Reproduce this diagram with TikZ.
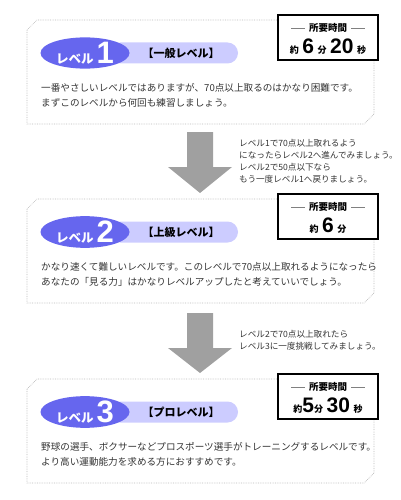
\documentclass[tikz,border=0pt]{standalone}
\usepackage{fontspec}
\setmainfont{Noto Sans CJK JP}
\newfontfamily\numfont{Liberation Sans}
\usepackage{xcolor}
\usetikzlibrary{positioning,calc,shapes.geometric}

\definecolor{levelblue}{RGB}{102,102,238}
\definecolor{levelpale}{RGB}{204,204,255}
\definecolor{arrowgray}{RGB}{160,160,160}
\definecolor{darktext}{RGB}{51,51,51}

\newcommand{\timeunit}{\normalfont\fontsize{9}{9}\selectfont\bfseries}
\newcommand{\timedigit}{\fontsize{21}{21}\selectfont\numfont\bfseries}

\begin{document}
\begin{tikzpicture}[x=1pt,y=-1pt,
  panel/.style={draw=gray!55,densely dotted,line width=0.7pt},
  timebox/.style={draw=black,line width=1.4pt,fill=white,minimum width=100pt,minimum height=45pt,inner sep=0pt},
  badge/.style={ellipse,fill=levelblue,minimum width=89pt,minimum height=29pt,inner sep=0pt,text=white},
  pill/.style={fill=levelpale,rounded corners=10.5pt,minimum width=128pt,minimum height=21pt,inner sep=0pt},
  pilltext/.style={font=\fontsize{11}{13}\selectfont\bfseries,inner sep=0pt},
  headtext/.style={font=\fontsize{9.5}{11}\selectfont\bfseries,inner sep=0pt},
  bodytext/.style={anchor=west,align=left,text=darktext,font=\fontsize{9.6}{15}\selectfont,inner sep=0pt},
  notetext/.style={anchor=west,align=left,text=darktext,font=\fontsize{8.6}{12}\selectfont,inner sep=0pt},
  bigarrow/.style={fill=arrowgray}
]
  \useasboundingbox (0,0) rectangle (400,500);

  % the three level panels
  \foreach \n/\top/\kind/\tm/\lineA/\lineB in {
    1/20/一般レベル/{\timeunit 約\timedigit\,6\,\timeunit 分\timedigit\,20\,\timeunit 秒}/{一番やさしいレベルではありますが、70点以上取るのはかなり困難です。}/{まずこのレベルから何回も練習しましょう。},
    2/199/上級レベル/{\timeunit 約\timedigit\,6\,\timeunit 分}/{かなり速くて難しいレベルです。このレベルで70点以上取れるようになったら}/{あなたの「見る力」はかなりレベルアップしたと考えていいでしょう。},
    3/379/プロレベル/{\timeunit 約\timedigit 5\timeunit 分\timedigit\,30\,\timeunit 秒}/{野球の選手、ボクサーなどプロスポーツ選手がトレーニングするレベルです。}/{より高い運動能力を求める方におすすめです。}} {
    \draw[panel] (27,\top+10) -- (37,\top) -- (374,\top) -- (374,\top+94)
      -- (364,\top+104) -- (27,\top+104) -- cycle;
    \node[pill] (pill\n) at (174,\top+33) {};
    \node[pilltext] (kind\n) at (181,\top+33) {【\kind】};
    \node[badge] (badge\n) at (85,\top+33)
      {\fontsize{12.5}{12.5}\selectfont\bfseries レベル\hspace{3pt}\fontsize{31}{31}\selectfont\numfont\bfseries\n};
    \node[timebox] (tbox\n) at (328,\top+17.5) {};
    \node[headtext] (head\n) at (328,\top+8) {所要時間};
    \draw[gray,line width=0.4pt] ([xshift=-4pt]head\n.west) -- ++(-14,0);
    \draw[gray,line width=0.4pt] ([xshift=4pt]head\n.east) -- ++(14,0);
    \node[inner sep=0pt] (time\n) at (328,\top+27) {\tm};
    \node[bodytext] (body\n) at (41,\top+75) {\lineA\\\lineB};
  }

  % arrows between panels
  \foreach \a/\b/\c in {132/167/193, 313/348/373} {
    \fill[bigarrow] (187,\a) -- (213,\a) -- (213,\b) -- (232,\b) -- (200,\c)
      -- (168,\b) -- (187,\b) -- cycle;
  }

  \node[notetext] (note1) at (239,161) {レベル1で70点以上取れるよう\\になったらレベル2へ進んでみましょう。\\レベル2で50点以下なら\\もう一度レベル1へ戻りましょう。};
  \node[notetext] (note2) at (239,340) {レベル2で70点以上取れたら\\レベル3に一度挑戦してみましょう。};
\end{tikzpicture}
\end{document}
